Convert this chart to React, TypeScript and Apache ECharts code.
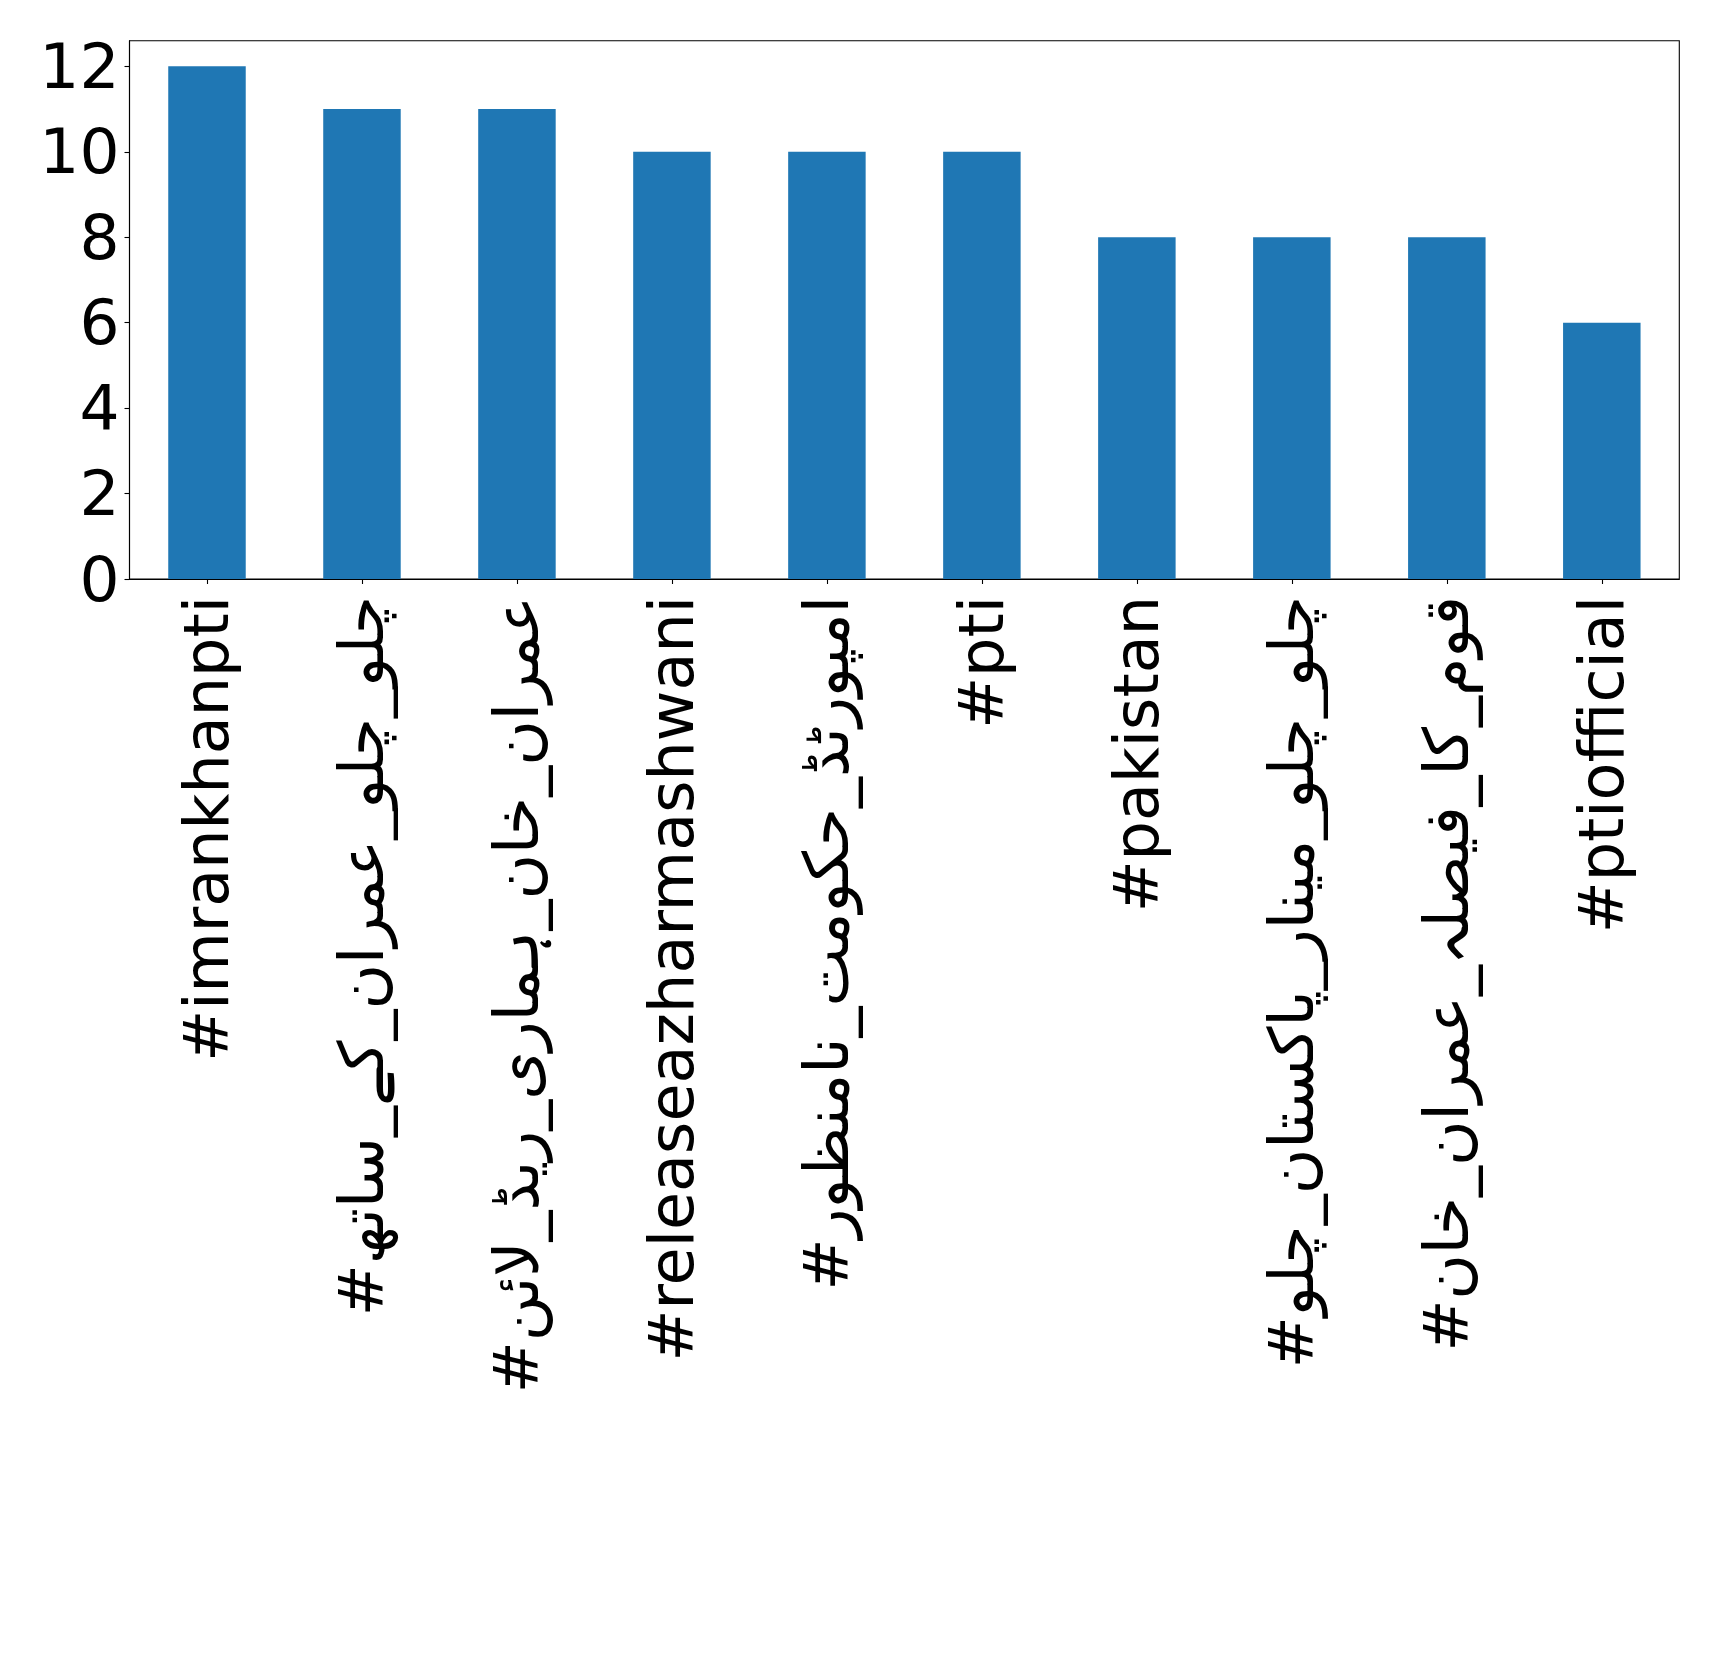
import React, { useEffect, useRef } from "react";
import * as echarts from "echarts";

const categories: string[] = [
  "#imrankhanpti",
  "#چلو_چلو_عمران_کے_ساتھ",
  "#عمران_خان_ہماری_ریڈ_لائن",
  "#releaseazharmashwani",
  "#امپورٹڈ_حکومت_نامنظور",
  "#pti",
  "#pakistan",
  "#چلو_چلو_مینار_پاکستان_چلو",
  "#قوم_کا_فیصلہ_عمران_خان",
  "#ptiofficial",
];

const counts: number[] = [12, 11, 11, 10, 10, 10, 8, 8, 8, 6];

const yTicks: number[] = [0, 2, 4, 6, 8, 10, 12];

export default function App() {
  const ref = useRef<HTMLDivElement>(null);

  useEffect(() => {
    document.body.style.margin = "0";
    if (!ref.current) return;
    const chart = echarts.init(ref.current, undefined, { renderer: "svg" });
    const font = "DejaVu Sans";
    chart.setOption({
      animation: false,
      backgroundColor: "#ffffff",
      grid: {
        left: 129.5,
        top: 40.7,
        right: 39.7,
        bottom: 1086,
        show: true,
        borderColor: "#000000",
        borderWidth: 1.1,
        backgroundColor: "transparent",
      },
      xAxis: {
        type: "category",
        data: categories,
        boundaryGap: true,
        axisLine: { show: true, lineStyle: { color: "#000000", width: 1.1 } },
        axisTick: {
          show: true,
          alignWithLabel: true,
          length: 5,
          lineStyle: { color: "#000000", width: 1.1 },
        },
        axisLabel: {
          interval: 0,
          rotate: 90,
          margin: 17,
          fontSize: 62,
          fontFamily: font,
          color: "#000000",
        },
        splitLine: { show: false },
      },
      yAxis: {
        type: "value",
        min: 0,
        max: 12.6,
        interval: 2,
        axisLine: { show: true, lineStyle: { color: "#000000", width: 1.1 } },
        axisTick: {
          show: true,
          length: 5,
          customValues: yTicks,
          lineStyle: { color: "#000000", width: 1.1 },
        },
        axisLabel: {
          customValues: yTicks,
          margin: 10,
          fontSize: 63,
          fontFamily: font,
          color: "#000000",
        },
        splitLine: { show: false },
      },
      series: [
        {
          type: "bar",
          data: counts,
          barWidth: "50%",
          itemStyle: { color: "#1f77b4" },
        },
      ],
    });
    return () => {
      chart.dispose();
    };
  }, []);

  return <div ref={ref} style={{ width: 1719, height: 1665 }} />;
}
